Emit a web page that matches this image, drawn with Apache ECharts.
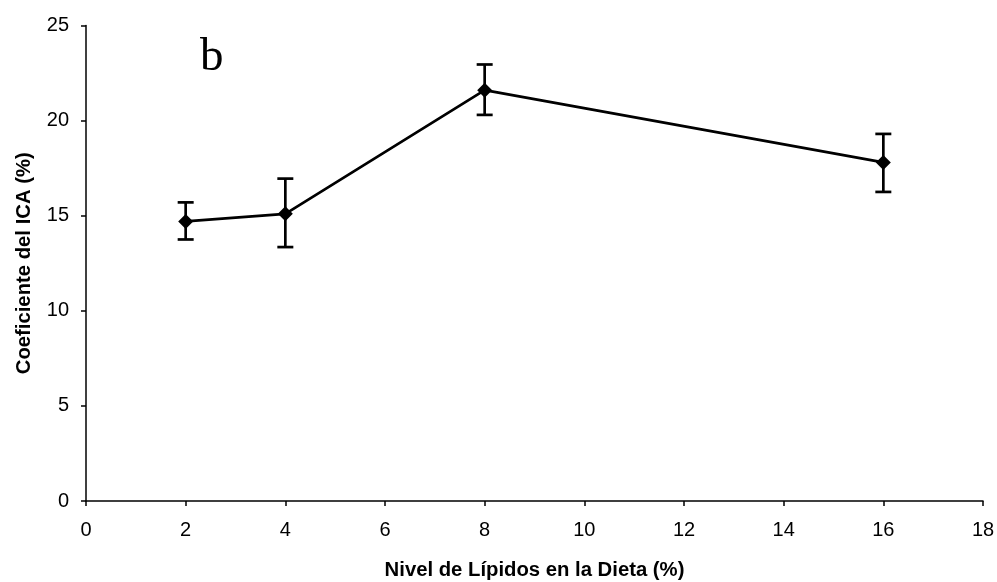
<!DOCTYPE html>
<html>
<head>
<meta charset="utf-8">
<script src="https://cdn.jsdelivr.net/npm/echarts@6/dist/echarts.min.js"></script>
<style>
  html, body { margin: 0; padding: 0; background: #fff; }
  #chart { width: 997px; height: 582px; }
</style>
</head>
<body>
<div id="chart"></div>
<script>
// Dietary lipid level (%) and ICA coefficient (%) with error bar limits
const lipidLevels = [2, 4, 8, 16];
const icaMeans = [14.7, 15.1, 21.6, 17.8];
const icaLower = [13.75, 13.35, 20.3, 16.25];
const icaUpper = [15.7, 16.95, 22.95, 19.3];

const xTicks = [0, 2, 4, 6, 8, 10, 12, 14, 16, 18];
const yTicks = [0, 5, 10, 15, 20, 25];

const chart = echarts.init(document.getElementById('chart'), null, { renderer: 'canvas' });

const lineData = lipidLevels.map((x, i) => [x, icaMeans[i]]);
const errData = lipidLevels.map((x, i) => [x, icaLower[i], icaUpper[i]]);

const sans = 'Liberation Sans, Arial, sans-serif';
const tickFont = { color: '#000', fontSize: 20, fontFamily: sans };
const titleFont = { color: '#000', fontSize: 20.3, fontWeight: 'bold', fontFamily: sans };

chart.setOption({
  animation: false,
  backgroundColor: '#fff',
  grid: { left: 86, right: 14, top: 25.5, bottom: 81, containLabel: false, outerBoundsMode: 'none' },
  xAxis: {
    type: 'value',
    min: xTicks[0],
    max: xTicks[xTicks.length - 1],
    interval: 2,
    name: 'Nivel de Lípidos en la Dieta (%)',
    nameLocation: 'middle',
    nameGap: 59,
    nameTextStyle: titleFont,
    axisLine: { show: true, onZero: false, lineStyle: { color: '#000', width: 1.5 } },
    axisTick: { show: true, length: 5, lineStyle: { color: '#000', width: 1.5 } },
    axisLabel: Object.assign({ margin: 19.5 }, tickFont),
    splitLine: { show: false }
  },
  yAxis: {
    type: 'value',
    min: yTicks[0],
    max: yTicks[yTicks.length - 1],
    interval: 5,
    name: 'Coeficiente del ICA (%)',
    nameLocation: 'middle',
    nameGap: 52,
    nameTextStyle: titleFont,
    axisLine: { show: true, lineStyle: { color: '#000', width: 1.5 } },
    axisTick: { show: true, length: 5, lineStyle: { color: '#000', width: 1.5 } },
    axisLabel: Object.assign({ margin: 17 }, tickFont),
    splitLine: { show: false }
  },
  graphic: [
    {
      type: 'text',
      left: 200, top: 34,
      style: { text: 'b', fill: '#000', fontSize: 47, fontFamily: 'Liberation Serif, Times New Roman, serif' }
    }
  ],
  series: [
    {
      type: 'custom',
      data: errData,
      z: 3,
      renderItem: function (params, api) {
        const x = api.value(0);
        const lo = api.coord([x, api.value(1)]);
        const hi = api.coord([x, api.value(2)]);
        const half = 8;
        const style = { stroke: '#000', lineWidth: 2.7 };
        return {
          type: 'group',
          children: [
            { type: 'line', shape: { x1: lo[0], y1: lo[1], x2: hi[0], y2: hi[1] }, style: style },
            { type: 'line', shape: { x1: lo[0] - half, y1: lo[1], x2: lo[0] + half, y2: lo[1] }, style: style },
            { type: 'line', shape: { x1: hi[0] - half, y1: hi[1], x2: hi[0] + half, y2: hi[1] }, style: style }
          ]
        };
      }
    },
    {
      type: 'line',
      data: lineData,
      z: 4,
      symbol: 'diamond',
      symbolSize: 15,
      lineStyle: { color: '#000', width: 2.7 },
      itemStyle: { color: '#000' }
    }
  ]
});
</script>
</body>
</html>
